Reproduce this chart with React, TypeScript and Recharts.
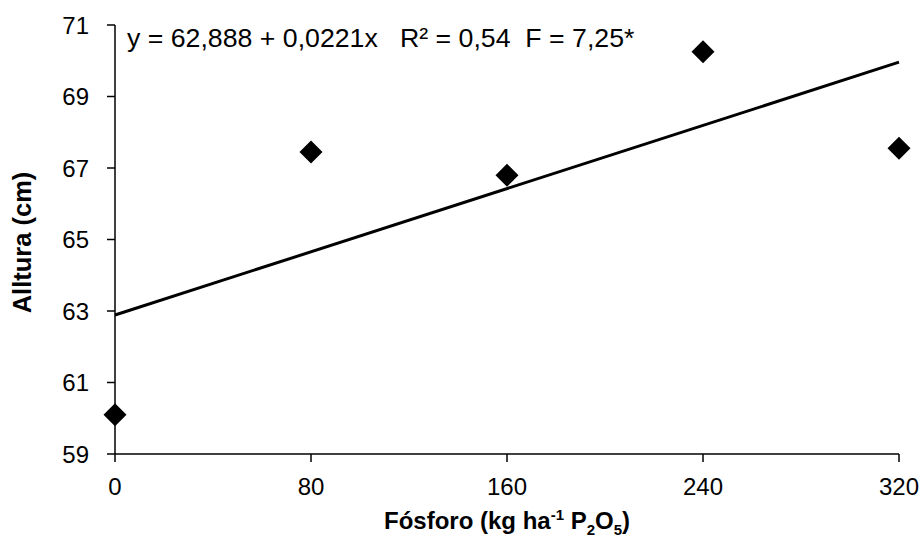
import { ScatterChart, Scatter, XAxis, YAxis } from "recharts";

const doses = [0, 80, 160, 240, 320];
const altura = [60.1, 67.45, 66.8, 70.25, 67.55];
const xTicks = [0, 80, 160, 240, 320];
const yTicks = [59, 61, 63, 65, 67, 69, 71];

// regression as printed on the chart
const intercept = 62.888;
const slope = 0.0221;
const equation = "y = 62,888 + 0,0221x   R² = 0,54  F = 7,25*";

const points = doses.map((x, i) => ({ x, y: altura[i] }));
const fitLine = [doses[0], doses[doses.length - 1]].map((x) => ({
  x,
  y: intercept + slope * x,
}));

const FONT = "'Liberation Sans', Arial, sans-serif";

const Diamond = (props: any) => {
  const { cx, cy } = props;
  const r = 11.5;
  return (
    <polygon
      points={`${cx},${cy - r} ${cx + r},${cy} ${cx},${cy + r} ${cx - r},${cy}`}
      fill="#000"
    />
  );
};

const XLabel = (props: any) => {
  const { viewBox } = props;
  const cx = viewBox.x + viewBox.width / 2;
  return (
    <text
      x={cx}
      y={viewBox.y + 75}
      textAnchor="middle"
      fontFamily={FONT}
      fontWeight="bold"
      fontSize={24}
      fill="#000"
    >
      <tspan>Fósforo (kg ha</tspan>
      <tspan fontSize={15} dy={-9}>-1</tspan>
      <tspan dy={9}> P</tspan>
      <tspan fontSize={15} dy={6}>2</tspan>
      <tspan dy={-6}>O</tspan>
      <tspan fontSize={15} dy={6}>5</tspan>
      <tspan dy={-6}>)</tspan>
    </text>
  );
};

const YLabel = (props: any) => {
  const { viewBox } = props;
  const cy = viewBox.y + viewBox.height / 2 + 3;
  const x = 31;
  return (
    <text
      x={x}
      y={cy}
      transform={`rotate(-90, ${x}, ${cy})`}
      textAnchor="middle"
      fontFamily={FONT}
      fontWeight="bold"
      fontSize={25.5}
      fill="#000"
    >
      Alltura (cm)
    </text>
  );
};

export default function App() {
  return (
    <div
      style={{
        position: "fixed",
        left: 0,
        top: 0,
        width: 924,
        height: 540,
        background: "#fff",
      }}
    >
      <ScatterChart
        width={924}
        height={540}
        margin={{ top: 25, right: 25, bottom: 36, left: 45 }}
      >
        <XAxis
          type="number"
          dataKey="x"
          domain={[0, 320]}
          ticks={xTicks}
          tickSize={8}
          tickMargin={16}
          height={50}
          stroke="#000"
          strokeWidth={1.5}
          tick={{ fill: "#000", fontSize: 24, fontFamily: FONT }}
          label={<XLabel />}
        />
        <YAxis
          type="number"
          dataKey="y"
          domain={[59, 71]}
          ticks={yTicks}
          tickSize={8}
          tickMargin={18}
          width={70}
          stroke="#000"
          strokeWidth={1.5}
          tick={{ fill: "#000", fontSize: 24, fontFamily: FONT }}
          label={<YLabel />}
        />
        <Scatter
          data={fitLine}
          line={{ stroke: "#000", strokeWidth: 3 }}
          shape={() => <g />}
          isAnimationActive={false}
        />
        <Scatter data={points} shape={<Diamond />} isAnimationActive={false} />
      </ScatterChart>
      <div
        style={{
          position: "absolute",
          left: 127,
          top: 25,
          fontFamily: FONT,
          fontSize: 26.7,
          color: "#000",
          whiteSpace: "pre",
          lineHeight: "26px",
        }}
      >
        {equation}
      </div>
    </div>
  );
}
